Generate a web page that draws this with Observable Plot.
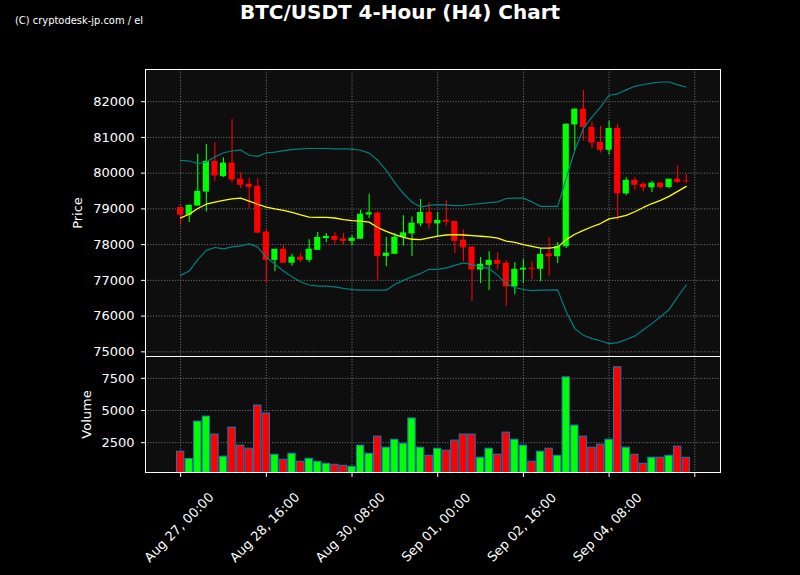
<!DOCTYPE html>
<html><head><meta charset="utf-8">
<script src="https://cdn.jsdelivr.net/npm/d3@7"></script>
<script src="https://cdn.jsdelivr.net/npm/@observablehq/plot@0.6"></script>
<style>
html,body{margin:0;padding:0;background:#000;}
#wrap{position:relative;width:800px;height:575px;background:#000;overflow:hidden;font-family:"DejaVu Sans",sans-serif;}
#title{position:absolute;left:0;top:0;width:800px;text-align:center;color:#fff;font-weight:bold;font-size:20px;line-height:24px;font-family:"DejaVu Sans",sans-serif;}
#wm{position:absolute;left:15px;top:14px;color:#fff;font-family:"Liberation Sans Narrow","DejaVu Sans",sans-serif;font-size:11px;line-height:14px;white-space:nowrap;transform:scaleX(0.9);transform-origin:0 0;}
#price{position:absolute;left:0;top:60px;}
#vol{position:absolute;left:0;top:356px;}
</style></head>
<body><div id="wrap">
<div id="title">BTC/USDT 4-Hour (H4) Chart</div>
<div id="wm">(C) cryptodesk-jp.com / el</div>
<div id="price"></div>
<div id="vol"></div>
</div>
<script>
// ---- data ----
const opens  = [79040,78820,79080,79470,80330,79900,80280,79830,79690,79630,78350,77560,77870,77480,77650,77560,77840,78170,78230,78160,78090,78150,78830,78880,77670,77730,78200,78300,78580,78900,78580,78680,78650,78130,77930,77290,77420,77560,77480,76820,77290,77340,77310,77740,77660,77940,81350,81790,81280,80860,80640,81250,79420,79800,79690,79590,79720,79600,79830,79780];
const highs  = [79050,79100,80520,80800,80850,80430,81500,80010,79850,79850,78420,77870,77980,77730,77750,78140,78340,78310,78340,78310,78250,78960,79410,78920,78200,78310,78810,78770,79260,79180,78900,79230,78650,78410,77950,77640,77800,77770,77550,77500,77580,77520,77890,78200,78060,81380,81800,82320,81440,81310,81450,81370,79870,79880,79740,79770,79740,79830,80210,79960];
const lows   = [78550,78620,79080,78910,79770,79880,79730,79570,79010,78310,76910,77240,77480,77395,77490,77490,77840,78060,78000,77990,77960,78150,78730,76990,77380,77730,77960,77670,78510,78430,78220,78510,77750,77530,76410,76910,76720,77300,76270,76600,76910,77020,76960,77115,77470,77890,80620,80900,80680,80560,80510,78670,79370,79520,79480,79460,79550,79560,79710,79700];
const closes = [78820,79100,79490,80330,79920,80280,79810,79660,79600,78320,77560,77870,77480,77650,77560,77870,78200,78230,78120,78090,78180,78850,78890,77670,77760,78210,78330,78600,78900,78580,78680,78630,78090,77910,77290,77450,77560,77450,76820,77310,77340,77310,77730,77660,77950,81370,81790,81280,80840,80640,81250,79420,79800,79660,79590,79720,79600,79830,79740,79760];
const volumes = [1800,1230,4140,4530,3130,1410,3670,2270,2030,5390,4770,1560,1170,1640,1020,1250,1020,860,780,700,630,2270,1640,2970,2110,2730,2420,4380,2110,1480,2030,1880,2660,3130,3130,1330,2030,1560,3280,2730,2270,1020,1800,2030,1480,7580,3830,2970,2110,2340,2730,8360,2110,1560,860,1330,1330,1480,2190,1330];
const sma   = [78750,78850,79010,79130,79190,79240,79280,79300,79220,79130,79050,79000,78960,78900,78830,78770,78765,78765,78745,78700,78670,78660,78630,78480,78370,78280,78205,78150,78140,78190,78240,78270,78280,78270,78250,78235,78215,78180,78100,78065,78000,77950,77900,77900,77930,78140,78290,78400,78500,78590,78720,78760,78820,78920,79040,79150,79240,79350,79490,79630];
const upper = [80360,80340,80270,80310,80450,80570,80620,80650,80500,80470,80570,80590,80630,80660,80680,80690,80690,80690,80680,80680,80670,80640,80560,80360,80080,79730,79430,79190,79050,79100,79120,79110,79090,79100,79130,79150,79175,79195,79290,79305,79300,79195,79070,79070,79070,79850,80640,81250,81570,81850,82180,82220,82330,82430,82480,82520,82550,82550,82470,82410];
const lower = [77140,77260,77580,77840,77920,77880,77935,77965,78020,77930,77650,77450,77260,77100,76960,76870,76840,76840,76820,76775,76740,76725,76725,76725,76725,76890,77000,77100,77190,77310,77310,77350,77420,77490,77440,77380,77330,77140,76910,76800,76745,76715,76725,76725,76735,76120,75650,75465,75370,75310,75230,75260,75345,75440,75620,75790,75980,76180,76540,76870];
const tickIdx = [0,10,20,30,40,50,60];
const tickLabels = ["Aug 27, 00:00","Aug 28, 16:00","Aug 30, 08:00","Sep 01, 00:00","Sep 02, 16:00","Sep 04, 08:00",""];
const priceTicks = [75000,76000,77000,78000,79000,80000,81000,82000];
const volTicks = [2500,5000,7500];

const candles = opens.map((o,i)=>({i, open:o, high:highs[i], low:lows[i], close:closes[i], volume:volumes[i], sma:sma[i], upper:upper[i], lower:lower[i], up: closes[i] >= o}));

const GREEN = "#00ff00", RED = "#ff0000", BG = "#0e0e0e";
const grid = {stroke:"#b0b0b0", strokeOpacity:0.75, strokeDasharray:"1,1.7", strokeWidth:0.9};
const xDomain = [-4.1, 63];
const style = {background:"transparent", color:"#fff", fontFamily:"DejaVu Sans, sans-serif", fontSize:"13px", overflow:"visible"};

const pricePlot = Plot.plot({
  width:800, height:296, marginTop:9, marginBottom:0, marginLeft:145, marginRight:80,
  style,
  x:{type:"linear", domain:xDomain, axis:null},
  y:{domain:[74870, 82900], axis:null},
  marks:[
    Plot.frame({fill:BG}),
    Plot.gridY(priceTicks, grid),
    Plot.gridX(tickIdx, grid),
    Plot.ruleX(candles, {filter:d=>d.up, x:"i", y1:"low", y2:"high", stroke:GREEN, strokeWidth:1.1}),
    Plot.ruleX(candles, {filter:d=>!d.up, x:"i", y1:"low", y2:"high", stroke:RED, strokeWidth:1.1}),
    Plot.rect(candles, {filter:d=>d.up, x1:d=>d.i-0.36, x2:d=>d.i+0.36, y1:"open", y2:"close", fill:GREEN}),
    Plot.rect(candles, {filter:d=>!d.up, x1:d=>d.i-0.36, x2:d=>d.i+0.36, y1:"open", y2:"close", fill:RED}),
    Plot.line(candles, {x:"i", y:"upper", stroke:"#008080", strokeWidth:1.2}),
    Plot.line(candles, {x:"i", y:"lower", stroke:"#008080", strokeWidth:1.2}),
    Plot.line(candles, {x:"i", y:"sma", stroke:"#ffff00", strokeWidth:1.3}),
    Plot.axisY(priceTicks, {anchor:"left", tickSize:4, tickPadding:7, label:null, tickFormat:d=>String(d)}),
    Plot.text(["Price"], {text:d=>d, frameAnchor:"left", dx:-67.5, rotate:-90, textAnchor:"middle", lineAnchor:"middle", fill:"#fff", fontSize:13}),
    Plot.frame({stroke:"#fff", strokeWidth:1})
  ]
});
document.getElementById("price").appendChild(pricePlot);

const volPlot = Plot.plot({
  width:800, height:219, marginTop:0, marginBottom:103, marginLeft:145, marginRight:80,
  style,
  x:{type:"linear", domain:xDomain, axis:null},
  y:{domain:[180, 9200], axis:null},
  marks:[
    Plot.frame({fill:BG}),
    Plot.gridY(volTicks, grid),
    Plot.gridX(tickIdx, grid),
    Plot.rect(candles, {filter:d=>d.up, x1:d=>d.i-0.43, x2:d=>d.i+0.43, y1:d=>0, y2:"volume", fill:GREEN, stroke:"#1f77b4", strokeWidth:1, clip:true}),
    Plot.rect(candles, {filter:d=>!d.up, x1:d=>d.i-0.43, x2:d=>d.i+0.43, y1:d=>0, y2:"volume", fill:RED, stroke:"#1f77b4", strokeWidth:1, clip:true}),
    Plot.axisY(volTicks, {anchor:"left", tickSize:4, tickPadding:7, label:null, tickFormat:d=>String(d)}),
    Plot.axisX(tickIdx, {anchor:"bottom", tickSize:5, label:null, tickFormat:()=>""}),
    Plot.text(tickIdx, {x:d=>d, text:(d,i)=>tickLabels[i], frameAnchor:"bottom", dx:-1.5, dy:55, rotate:-45, textAnchor:"middle", lineAnchor:"middle", fill:"#fff", fontSize:13}),
    Plot.text(["Volume"], {text:d=>d, frameAnchor:"left", dx:-59, rotate:-90, textAnchor:"middle", lineAnchor:"middle", fill:"#fff", fontSize:13}),
    Plot.frame({stroke:"#fff", strokeWidth:1})
  ]
});
document.getElementById("vol").appendChild(volPlot);
</script>
</body></html>
